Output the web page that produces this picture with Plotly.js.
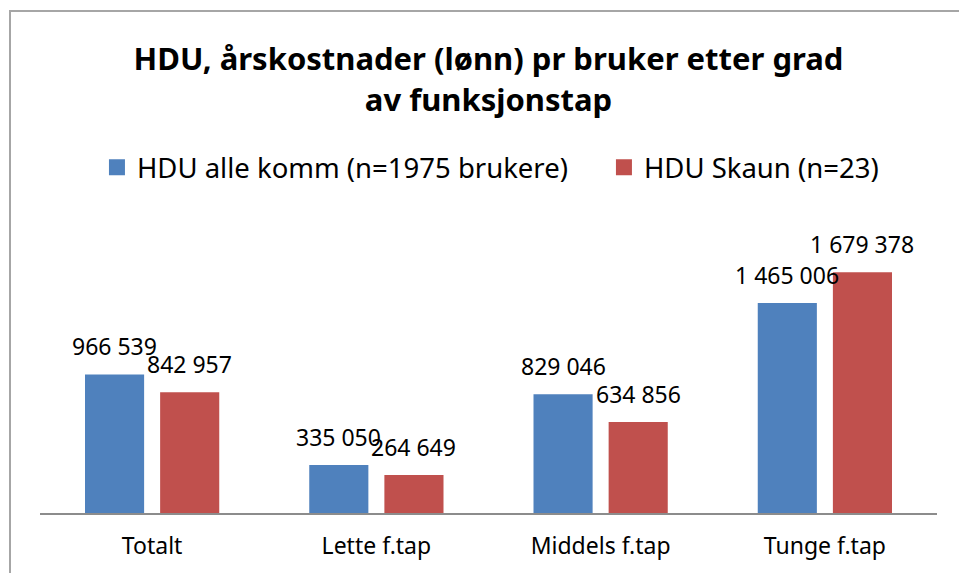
<!DOCTYPE html>
<html>
<head>
<meta charset="utf-8">
<script src="https://cdn.plot.ly/plotly-3.0.1.min.js"></script>
<style>
  html, body { margin: 0; padding: 0; background: #fff; }
  #chart { width: 959px; height: 573px; }
  #frame { position: absolute; left: 9px; top: 10px; width: 960px; height: 570px;
           border-left: 2px solid #a6a6a6; border-top: 2px solid #a6a6a6; pointer-events: none; }
</style>
</head>
<body>
<div id="chart"></div>
<div id="frame"></div>
<script>
const categories = ["Totalt", "Lette f.tap", "Middels f.tap", "Tunge f.tap"];
const seriesNames = ["HDU alle komm (n=1975 brukere)", "HDU Skaun (n=23)"];
const allKomm = [966539, 335050, 829046, 1465006];
const skaun = [842957, 264649, 634856, 1679378];
const colors = ["#4F81BD", "#C0504D"];

const FONT = "Noto Sans, Open Sans, sans-serif";
const series = [allKomm, skaun];

function fmt(v) {
  return String(v).replace(/\B(?=(\d{3})+(?!\d))/g, " ");
}

const traces = series.map((vals, i) => ({
  type: "bar",
  x: categories,
  y: vals,
  name: seriesNames[i],
  marker: { color: colors[i] },
  showlegend: false,
  hoverinfo: "skip"
}));

// legend entries with larger square swatches, one legend box per series
const legendIds = ["legend", "legend2"];
seriesNames.forEach((n, i) => {
  traces.push({
    type: "scatter", mode: "markers", x: [null], y: [null], name: n,
    marker: { symbol: "square", size: 18, color: colors[i] },
    showlegend: true, hoverinfo: "skip", legend: legendIds[i]
  });
});

// value labels above each bar
const plotW = 959 - 40 - 22;
const catW = plotW / categories.length;
const bargap = 0.33;
const slot = catW * (1 - bargap) / 2;
const annotations = [];
series.forEach((vals, i) => {
  vals.forEach((v, j) => {
    annotations.push({
      x: categories[j], y: v, xref: "x", yref: "y",
      xshift: (i === 0 ? -1 : 1) * slot / 2,
      yshift: 10, yanchor: "bottom", xanchor: "center",
      text: fmt(v), showarrow: false,
      font: { family: FONT, size: 23, color: "#000" }
    });
  });
});

const legendBase = {
  orientation: "h", xanchor: "left", y: 1.34, yanchor: "middle",
  font: { family: FONT, size: 27.5, color: "#000" },
  itemclick: false, bgcolor: "rgba(0,0,0,0)"
};

const layout = {
  width: 959, height: 573,
  margin: { l: 40, r: 22, t: 255, b: 60 },
  paper_bgcolor: "#fff", plot_bgcolor: "#fff",
  barmode: "group", bargap: bargap, bargroupgap: 0.213,
  title: {
    text: "<b>HDU, årskostnader (lønn) pr bruker etter grad<br>av funksjonstap</b>",
    font: { family: FONT, size: 31, color: "#000" },
    x: 0.5, xanchor: "center", xref: "paper",
    y: 0.877, yanchor: "middle", yref: "container"
  },
  legend: Object.assign({}, legendBase, { x: 0.0635 }),
  legend2: Object.assign({}, legendBase, { x: 0.6287 }),
  xaxis: {
    type: "category",
    showline: true, linecolor: "#8c8c8c", linewidth: 1.5,
    ticks: "", showgrid: false, zeroline: false,
    tickfont: { family: FONT, size: 23, color: "#000" },
    ticklabelstandoff: 12
  },
  yaxis: {
    range: [0, 1800000], visible: false, showgrid: false, zeroline: false
  },
  annotations: annotations,
  showlegend: true
};

Plotly.newPlot("chart", traces, layout, { displayModeBar: false, staticPlot: true });
</script>
</body>
</html>
